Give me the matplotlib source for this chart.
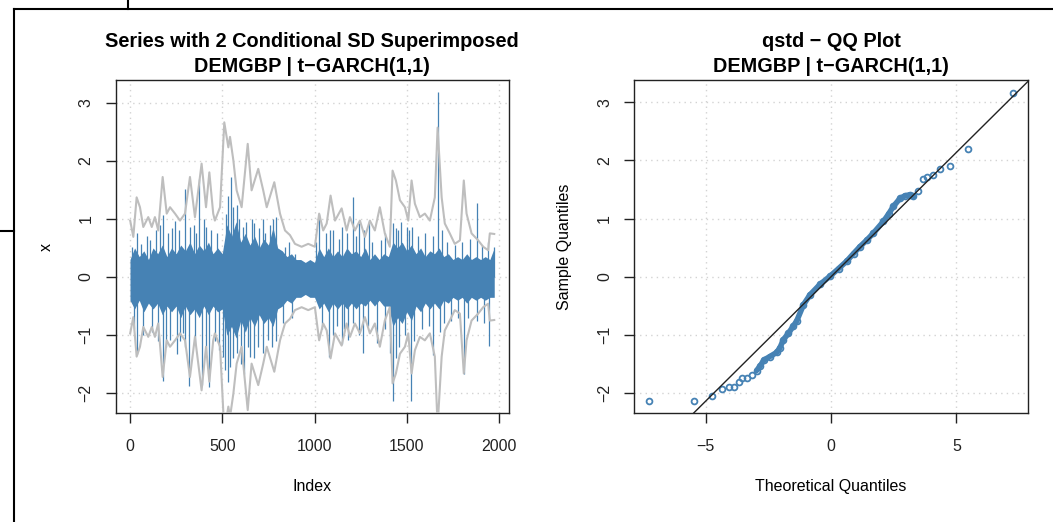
import matplotlib
matplotlib.use("Agg")
import matplotlib.pyplot as plt
from matplotlib.lines import Line2D

plt.rcParams['font.family'] = ['Liberation Sans', 'DejaVu Sans']

# ---- left panel: series with +/- 2 conditional SD ----
n_obs = 1974

# upper 2*sigma band, lower band is the mirror
sd_idx = [1, 18, 36, 54, 72, 99, 118, 135, 153, 177, 199, 217, 244, 271, 298, 325, 352,
          388, 412, 430, 451, 460, 488, 511, 533, 542, 560, 578, 605, 638, 659, 695, 722,
          741, 782, 813, 840, 867, 894, 930, 966, 1002, 1025, 1047, 1066, 1087, 1111, 1147,
          1174, 1192, 1219, 1246, 1273, 1300, 1327, 1354, 1381, 1408, 1423, 1441, 1463,
          1490, 1508, 1526, 1544, 1571, 1598, 1625, 1652, 1667, 1689, 1706, 1733, 1760,
          1788, 1809, 1824, 1851, 1887, 1914, 1941, 1950, 1974]
sd_val = [0.97, 0.69, 1.37, 1.20, 0.86, 1.03, 0.86, 1.03, 0.80, 1.72, 1.09, 1.20, 1.09,
          0.97, 1.09, 1.72, 1.03, 1.95, 1.20, 1.80, 1.09, 0.97, 1.20, 2.66, 2.23, 2.41,
          2.01, 1.49, 1.20, 2.29, 1.49, 1.86, 1.49, 1.20, 1.63, 1.09, 0.80, 0.72, 0.57,
          0.52, 0.57, 0.52, 1.09, 0.80, 0.92, 1.40, 0.97, 1.18, 0.80, 1.03, 0.80, 0.97,
          0.69, 0.97, 0.80, 1.20, 0.75, 0.52, 1.83, 1.66, 1.32, 1.20, 0.97, 1.66, 1.26,
          1.03, 1.09, 0.97, 1.37, 2.57, 1.37, 0.92, 0.75, 0.57, 0.63, 1.66, 1.09, 0.75,
          0.63, 0.52, 0.46, 0.75, 0.74]

# dense body of the return series (upper / lower edge every 25 obs)
core_idx = list(range(0, 1951, 25)) + [1974]
core_hi = [0.3, 0.5, 0.35, 0.45, 0.3, 0.5, 0.4, 0.55, 0.35, 0.5, 0.4, 0.55, 0.45, 0.6,
           0.4, 0.55, 0.45, 0.6, 0.4, 0.5, 0.4, 0.9, 0.7, 0.95, 0.6, 0.75, 0.55, 0.7,
           0.5, 0.65, 0.55, 0.85, 0.5, 0.45, 0.35, 0.4, 0.3, 0.3, 0.25, 0.3, 0.25, 0.5,
           0.35, 0.5, 0.35, 0.45, 0.35, 0.5, 0.4, 0.45, 0.35, 0.5, 0.3, 0.4, 0.3, 0.4,
           0.35, 0.6, 0.5, 0.6, 0.45, 0.55, 0.4, 0.5, 0.35, 0.45, 0.4, 0.5, 0.35, 0.4,
           0.3, 0.35, 0.3, 0.4, 0.3, 0.35, 0.3, 0.35, 0.3, 0.5]
core_lo = [-0.4, -0.55, -0.4, -0.6, -0.45, -0.55, -0.45, -0.65, -0.5, -0.6, -0.5, -0.7,
           -0.5, -0.65, -0.55, -0.7, -0.5, -0.65, -0.5, -0.6, -0.55, -1.0, -0.85, -1.05,
           -0.75, -0.95, -0.7, -0.85, -0.65, -0.8, -0.7, -0.85, -0.55, -0.5, -0.4, -0.45,
           -0.35, -0.35, -0.3, -0.35, -0.35, -0.55, -0.45, -0.6, -0.45, -0.55, -0.45,
           -0.55, -0.45, -0.55, -0.45, -0.5, -0.4, -0.5, -0.4, -0.5, -0.5, -0.85, -0.7,
           -0.8, -0.6, -0.75, -0.5, -0.6, -0.45, -0.55, -0.45, -0.55, -0.4, -0.45, -0.35,
           -0.4, -0.35, -0.45, -0.35, -0.4, -0.35, -0.4, -0.35, -0.35]

# medium-sized returns sticking out of the body
mid_idx = [40, 90, 140, 160, 205, 230, 265, 345, 360, 400, 440, 470, 530, 560, 590, 630,
           660, 700, 720, 760, 775, 860, 1010, 1060, 1100, 1130, 1175, 1225, 1270, 1310,
           1380, 1440, 1470, 1510, 1560, 1600, 1640, 1690, 1720, 1760, 1800, 1840, 1910,
           1940,
           20, 70, 120, 150, 195, 270, 300, 350, 410, 460, 480, 515, 530, 560, 580, 600,
           640, 670, 720, 770, 790, 830, 880, 1040, 1100, 1120, 1160, 1210, 1240, 1290,
           1380, 1410, 1440, 1460, 1490, 1540, 1580, 1620, 1680, 1700, 1740, 1780, 1830,
           1880, 1920]
mid_val = [0.75, 0.7, 0.8, 0.9, 0.75, 0.85, 0.8, 0.9, 0.75, 1.0, 0.8, 0.75, 1.4, 1.2,
           1.0, 0.95, 1.0, 0.85, 1.0, 0.9, 1.0, 0.6, 0.6, 0.75, 0.8, 0.65, 0.75, 0.7, 0.8,
           0.6, 0.75, 0.85, 0.95, 0.8, 0.7, 0.75, 0.7, 0.8, 0.6, 0.55, 0.6, 0.65, 0.55,
           0.6,
           -0.9, -1.0, -0.95, -1.1, -1.2, -1.1, -1.2, -1.15, -1.3, -1.1, -1.25, -1.6, -1.8,
           -1.4, -1.3, -1.5, -1.2, -1.4, -1.3, -1.2, -1.1, -0.8, -0.7, -0.9, -1.0, -0.85,
           -0.9, -0.8, -1.0, -0.85, -0.9, -1.3, -1.4, -1.2, -1.0, -1.1, -0.9, -0.85, -0.95,
           -0.8, -0.75, -0.7, -0.7, -0.75, -0.8]

# large individual returns
up_idx = [9, 58, 108, 177, 244, 298, 325, 374, 412, 518, 547, 578, 614, 673, 731, 789,
          840, 894, 1025, 1083, 1147, 1206, 1242, 1296, 1358, 1423, 1453, 1499, 1526,
          1667, 1883, 1974]
up_val = [0.52, 0.57, 0.63, 1.06, 0.97, 1.52, 0.86, 1.69, 0.86, 1.09, 1.72, 1.23, 0.86,
          0.92, 0.75, 1.03, 0.52, 0.40, 1.09, 0.80, 0.86, 1.37, 0.92, 0.97, 0.63, 0.92,
          0.80, 0.86, 0.86, 3.18, 1.27, 0.52]
dn_idx = [36, 177, 217, 253, 289, 321, 388, 427, 505, 542, 618, 650, 695, 749, 1081,
          1149, 1183, 1264, 1336, 1424, 1521, 1643, 1808, 1947]
dn_val = [-1.33, -1.79, -1.09, -1.32, -0.97, -1.88, -1.85, -1.90, -1.37, -1.55, -1.67,
          -1.37, -1.20, -1.09, -1.38, -1.15, -1.09, -1.31, -1.14, -2.13, -2.14, -1.34,
          -1.67, -1.18]

# ---- right panel: QQ plot against the standardized t ----
qq_theo = [-7.27, -5.46, -4.77, -4.34, -4.07, -3.86, -3.66, -3.54, -3.37, -3.17, -2.97,
           -2.84, -2.68, -2.44, -2.17, -2.04, -1.90, -1.70, -1.51, -1.37, -1.10, -0.84,
           -0.44, -0.04, 0.30, 0.63, 0.90, 1.16, 1.45, 1.69, 2.09, 2.30, 2.49, 2.76, 2.95,
           3.15, 3.29, 3.49, 3.69, 3.85, 4.06, 4.35, 4.75, 5.46, 7.27]
qq_samp = [-2.13, -2.13, -2.05, -1.93, -1.90, -1.90, -1.81, -1.74, -1.74, -1.68, -1.61,
           -1.54, -1.43, -1.37, -1.30, -1.22, -1.08, -0.97, -0.85, -0.76, -0.48, -0.31,
           -0.13, 0.01, 0.14, 0.27, 0.40, 0.52, 0.64, 0.75, 0.95, 1.08, 1.21, 1.35, 1.39,
           1.41, 1.38, 1.48, 1.68, 1.72, 1.74, 1.85, 1.91, 2.20, 3.15]
qq_slope = 0.427
qq_icept = 0.0

blue = '#4682B4'
grey = '#BEBEBE'
minus = '\u2212'

fig = plt.figure(figsize=(10.53, 5.22), dpi=100)
ax1 = fig.add_axes([0.1098, 0.2088, 0.3734, 0.637])
ax2 = fig.add_axes([0.6024, 0.2088, 0.3736, 0.6379])


def r_style(ax, xticks, yticks, xlab, ylab, title):
    ax.set_xticks(xticks)
    ax.set_yticks(yticks)
    ax.set_xticklabels([str(t).replace('-', minus) for t in xticks])
    ax.set_yticklabels([str(t).replace('-', minus) for t in yticks])
    ax.tick_params(direction='out', length=7, width=1, colors='#222222',
                   labelsize=11.5, pad=12)
    ax.tick_params(axis='y', labelrotation=90, pad=9)
    for lab in ax.get_yticklabels():
        lab.set_verticalalignment('center')
    for sp in ax.spines.values():
        sp.set_linewidth(1)
        sp.set_color('#222222')
    for t in xticks:
        ax.axvline(t, color='#D3D3D3', lw=1, ls=(0, (1, 3)), zorder=0)
    for t in yticks:
        ax.axhline(t, color='#D3D3D3', lw=1, ls=(0, (1, 3)), zorder=0)
    ax.set_xlabel(xlab, fontsize=11.5, labelpad=18)
    ax.set_ylabel(ylab, fontsize=11.5, labelpad=18)
    ax.set_title(title, fontsize=14.3, fontweight='bold', pad=6, linespacing=1.4)


# left: series, body + spikes, then the grey bands on top
ax1.fill_between(core_idx, core_lo, core_hi, color=blue, lw=0, zorder=2)
ax1.vlines(mid_idx, 0, mid_val, color=blue, lw=0.9, zorder=2)
ax1.vlines(up_idx, 0, up_val, color=blue, lw=0.9, zorder=2)
ax1.vlines(dn_idx, 0, dn_val, color=blue, lw=0.9, zorder=2)
ax1.plot(sd_idx, sd_val, color=grey, lw=1.5, zorder=3)
ax1.plot(sd_idx, [-v for v in sd_val], color=grey, lw=1.5, zorder=3)
ax1.set_xlim(1 - 0.04 * (n_obs - 1), n_obs + 0.04 * (n_obs - 1))
ax1.set_ylim(-2.34, 3.38)
r_style(ax1, [0, 500, 1000, 1500, 2000], [-2, -1, 0, 1, 2, 3], 'Index', 'x',
        'Series with 2 Conditional SD Superimposed\nDEMGBP | t' + minus + 'GARCH(1,1)')

# right: QQ plot
dense = [i for i in range(len(qq_theo)) if -3.0 <= qq_theo[i] <= 3.3]
ax2.plot([qq_theo[i] for i in dense], [qq_samp[i] for i in dense], color=blue, lw=4,
         solid_capstyle='round', zorder=2)
ax2.plot(qq_theo, qq_samp, ls='none', marker='o', ms=4.2, mfc='none', mec=blue, mew=1.3,
         zorder=3)
ax2.axline((0, qq_icept), slope=qq_slope, color='#222222', lw=1, zorder=4)
ax2.set_xlim(-7.85, 7.85)
ax2.set_ylim(-2.34, 3.38)
r_style(ax2, [-5, 0, 5], [-2, -1, 0, 1, 2, 3], 'Theoretical Quantiles', 'Sample Quantiles',
        'qstd ' + minus + ' QQ Plot\nDEMGBP | t' + minus + 'GARCH(1,1)')

# frame lines from the surrounding window
fig.add_artist(Line2D([13.5 / 1053, 1], [1 - 8.5 / 522] * 2, color='black', lw=1.5))
fig.add_artist(Line2D([13.5 / 1053] * 2, [0, 1 - 8.5 / 522], color='black', lw=1.5))
fig.add_artist(Line2D([127.8 / 1053] * 2, [1 - 8.5 / 522, 1], color='black', lw=1.5))
fig.add_artist(Line2D([0, 13.5 / 1053], [1 - 231.4 / 522] * 2, color='black', lw=1.5))

fig.savefig('out.png', dpi=100)
